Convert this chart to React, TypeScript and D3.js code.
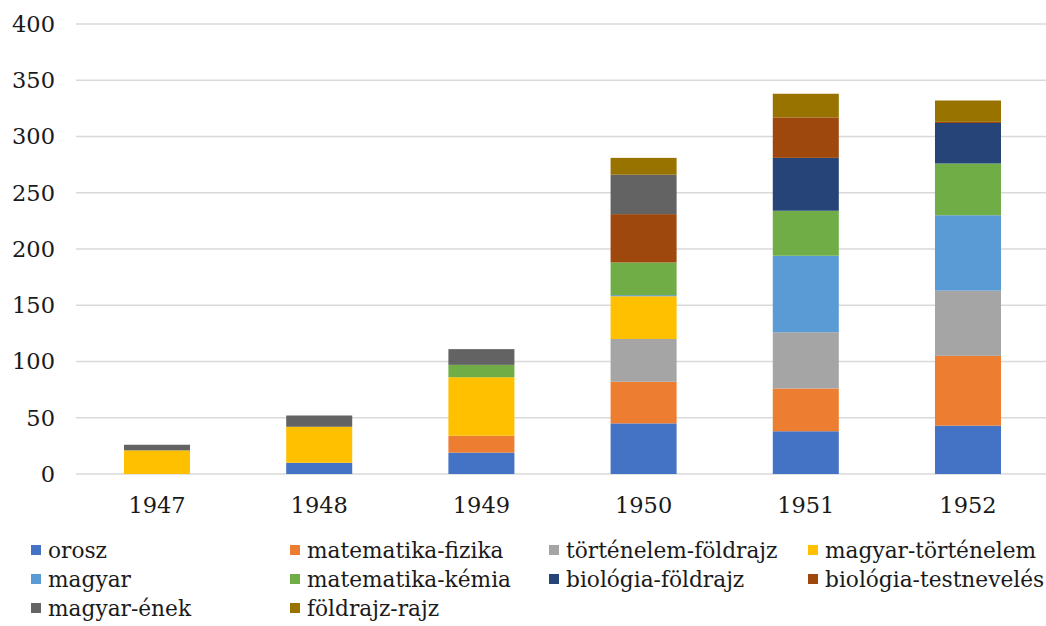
import React, { useEffect, useRef } from 'react'
import * as d3 from 'd3'

const years = ['1947', '1948', '1949', '1950', '1951', '1952']
const seriesNames = [
  'orosz', 'matematika-fizika', 'történelem-földrajz', 'magyar-történelem', 'magyar',
  'matematika-kémia', 'biológia-földrajz', 'biológia-testnevelés', 'magyar-ének', 'földrajz-rajz',
]
const colors = ['#4472C4', '#ED7D31', '#A5A5A5', '#FFC000', '#5B9BD5', '#70AD47', '#264478', '#9E480E', '#636363', '#997300']

const orosz = [0, 10, 19, 45, 38, 43]
const matFiz = [0, 0, 15, 37, 38, 62]
const tortFold = [0, 0, 0, 38, 50, 58]
const magyTort = [21, 32, 52, 38, 0, 0]
const magyar = [0, 0, 0, 1, 68, 67]
const matKem = [0, 0, 11, 29, 40, 46]
const bioFold = [0, 0, 0, 0, 47, 36]
const bioTest = [0, 0, 0, 43, 36, 1]
const magyEnek = [5, 10, 14, 35, 0, 0]
const foldRajz = [0, 0, 0, 15, 21, 19]
const values = [orosz, matFiz, tortFold, magyTort, magyar, matKem, bioFold, bioTest, magyEnek, foldRajz]

const yTicks = [0, 50, 100, 150, 200, 250, 300, 350, 400]

const W = 1046, H = 626
const FONT = "Georgia, 'DejaVu Serif', serif"

export default function App() {
  const ref = useRef<SVGSVGElement>(null)

  useEffect(() => {
    const svg = d3.select(ref.current)
    svg.selectAll('*').remove()
    const m = { left: 76, right: -3, top: 24, bottom: 152 }
    const x = d3.scaleBand().domain(years).range([m.left, W - m.right]).paddingInner(0.593).paddingOuter(0.296)
    const y = d3.scaleLinear().domain([0, 400]).range([H - m.bottom, m.top])

    // gridlines
    svg.append('g').selectAll('line').data(yTicks).join('line')
      .attr('x1', m.left).attr('x2', W).attr('y1', d => y(d)).attr('y2', d => y(d))
      .attr('stroke', '#d9d9d9').attr('stroke-width', 1.5)

    // y labels
    svg.append('g').selectAll('text').data(yTicks).join('text')
      .attr('x', 55).attr('y', d => y(d)).attr('dy', '0.35em').attr('text-anchor', 'end')
      .attr('font-family', FONT).attr('font-size', 22.5).attr('fill', '#1a1a1a')
      .text(d => d)

    // x labels
    svg.append('g').selectAll('text').data(years).join('text')
      .attr('x', d => x(d)! + x.bandwidth() / 2).attr('y', 513).attr('text-anchor', 'middle')
      .attr('font-family', FONT).attr('font-size', 22.5).attr('fill', '#1a1a1a')
      .text(d => d)

    const rows = years.map((yr, i) => {
      const r: any = { year: yr }
      seriesNames.forEach((s, k) => { r[s] = values[k][i] })
      return r
    })
    const stacked = d3.stack().keys(seriesNames)(rows)
    const g = svg.append('g')
    stacked.forEach((layer, k) => {
      g.append('g').attr('fill', colors[k]).selectAll('rect').data(layer.filter(d => d[1] > d[0])).join('rect')
        .attr('x', d => x((d.data as any).year)!).attr('width', x.bandwidth())
        .attr('y', d => y(d[1])).attr('height', d => y(d[0]) - y(d[1]))
    })

    // legend
    const colX = [31, 290, 549, 808]
    const rowY = [558, 587, 616]
    const lg = svg.append('g')
    seriesNames.forEach((s, k) => {
      const cx = colX[k % 4], cy = rowY[Math.floor(k / 4)]
      lg.append('rect').attr('x', cx).attr('y', cy - 13).attr('width', 10).attr('height', 10).attr('fill', colors[k])
      lg.append('text').attr('x', cx + 17).attr('y', cy)
        .attr('font-family', FONT).attr('font-size', 21.7).attr('fill', '#1a1a1a').text(s)
    })
  }, [])

  return (
    <svg ref={ref} width={W} height={H} style={{ position: 'absolute', left: 0, top: 0, background: '#fff' }} />
  )
}
